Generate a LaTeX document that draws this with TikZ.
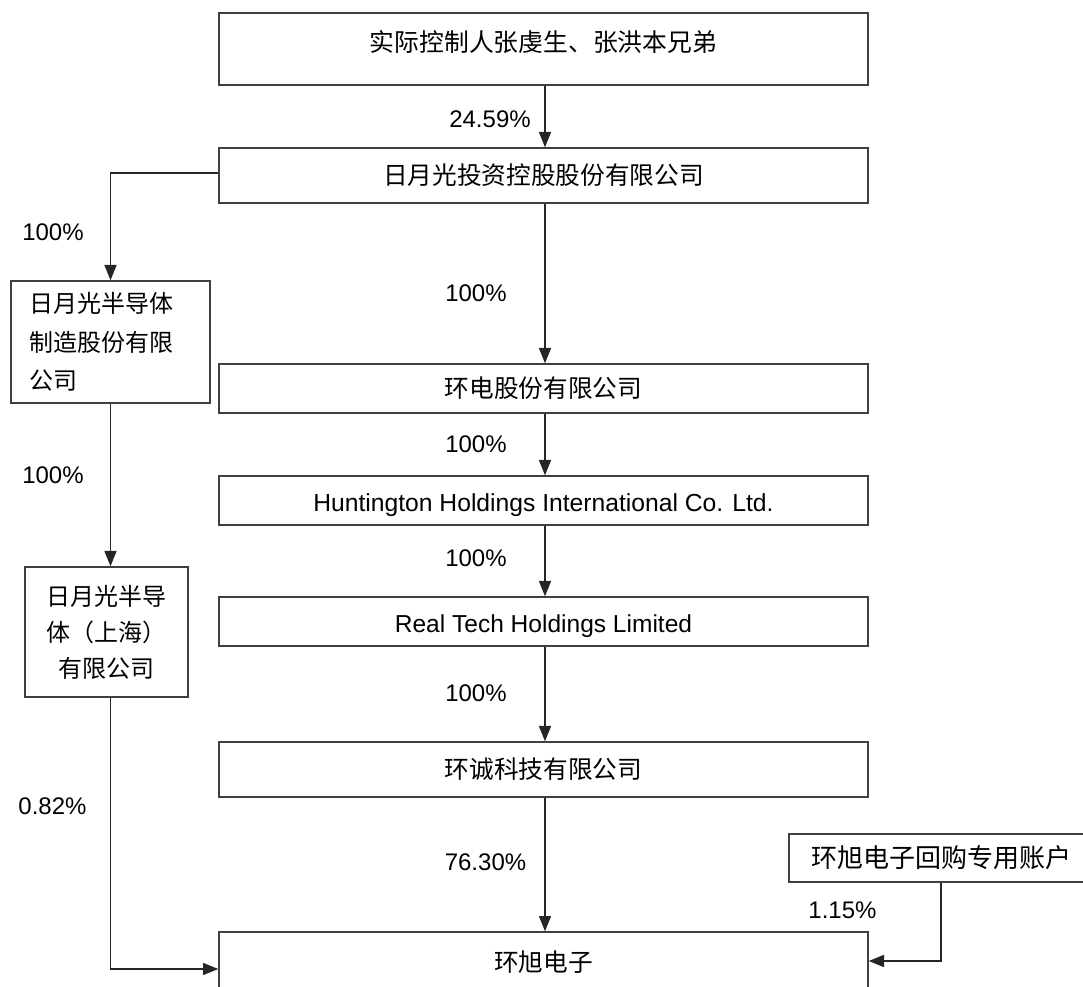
\documentclass[tikz,border=0pt]{standalone}
\usepackage{fontspec}
\setmainfont{Liberation Sans}
\newfontfamily\cjk{Noto Sans CJK SC}
\usetikzlibrary{arrows.meta}

\tikzset{
	box/.style={draw=black!75, line width=1pt, inner sep=0pt, minimum width=486.75pt, font=\cjk\fontsize{18.5}{22}\selectfont},
	sidebox/.style={draw=black!75, line width=1pt, inner sep=0pt, font=\cjk\fontsize{18}{27}\selectfont},
	pct/.style={inner sep=0pt, font=\fontsize{18}{22}\selectfont},
	arr/.style={-{Triangle[length=11.5pt,width=9pt]}, line width=1pt, black!85},
}

\begin{document}
\begin{tikzpicture}[x=0.75pt,y=-0.75pt]
	\useasboundingbox (0,0) rectangle (1083,987);
	\node[box, minimum height=54pt, text depth=12pt, font=\cjk\fontsize{18.6}{22}\selectfont] (ctrl) at (543.5,49) {实际控制人张虔生、张洪本兄弟};
	\node[box, minimum height=41.25pt] (hold) at (543.5,175.5) {日月光投资控股股份有限公司};
	\node[box, minimum height=36.75pt] (usi) at (543.5,388.5) {环电股份有限公司};
	\node[box, minimum height=36.75pt, text height=21pt, text depth=4pt, font=\fontsize{18.5}{22}\selectfont] (hunt) at (543.5,500.5) {Huntington Holdings International Co. Ltd.};
	\node[box, minimum height=36.75pt, text height=21pt, text depth=4pt, font=\fontsize{18.4}{22}\selectfont] (real) at (543.5,621.5) {Real Tech Holdings Limited};
	\node[box, minimum height=41.25pt] (hc) at (543.5,769.5) {环诚科技有限公司};
	\node[box, minimum height=45pt] (xu) at (543.5,962) {环旭电子};
	\node[sidebox, minimum width=149.25pt, minimum height=91.5pt, text width=120.75pt, align=left, font=\cjk\fontsize{18}{29}\selectfont] (semi) at (110.5,342) {日月光半导体\\制造股份有限\\公司};
	\node[sidebox, minimum width=122.25pt, minimum height=97.5pt, align=center] (sh) at (106.5,632) {日月光半导\\体（上海）\\有限公司};
	\node[sidebox, minimum width=228pt, minimum height=36pt, font=\cjk\fontsize{19.5}{22}\selectfont] (bb) at (941,858) {环旭电子回购专用账户};

	\draw[arr] (ctrl.south -| 545,0) -- (hold.north -| 545,0);
	\draw[arr, line width=1.3pt] ([yshift=1.9pt]hold.west) -| (semi.north);
	\draw[arr] (semi.south) -- (semi.south |- sh.north);
	\draw[arr] (sh.south -| semi.south) |- ([yshift=-5.25pt]xu.west);
	\draw[arr] (hold.south -| 545,0) -- (usi.north -| 545,0);
	\draw[arr] (usi.south -| 545,0) -- (hunt.north -| 545,0);
	\draw[arr] (hunt.south -| 545,0) -- (real.north -| 545,0);
	\draw[arr] (real.south -| 545,0) -- (hc.north -| 545,0);
	\draw[arr] (hc.south -| 545,0) -- (xu.north -| 545,0);
	\draw[arr, line width=1.3pt] (bb.south) |- ([yshift=0.75pt]xu.east);

	\node[pct] (p1) at (490,119) {24.59\%};
	\node[pct] (p2) at (53,232) {100\%};
	\node[pct] (p3) at (53,475) {100\%};
	\node[pct] (p4) at (52.5,806) {0.82\%};
	\node[pct] (p5) at (476,293) {100\%};
	\node[pct] (p6) at (476,444) {100\%};
	\node[pct] (p7) at (476,558) {100\%};
	\node[pct] (p8) at (476,693) {100\%};
	\node[pct] (p9) at (485.5,862) {76.30\%};
	\node[pct] (p10) at (842.5,910) {1.15\%};
\end{tikzpicture}
\end{document}
